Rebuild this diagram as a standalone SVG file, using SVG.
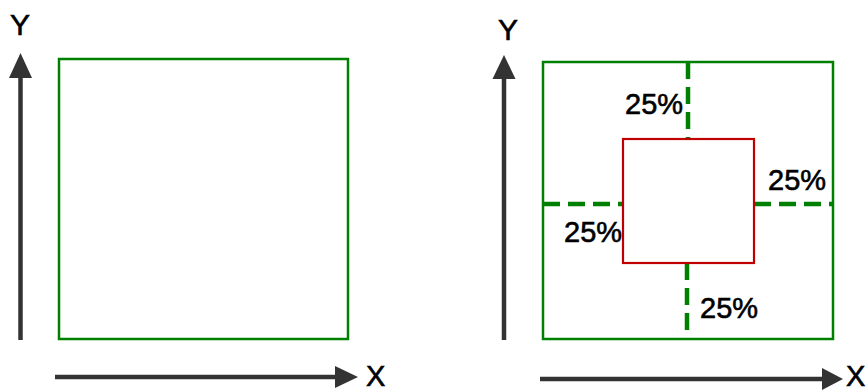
<svg xmlns="http://www.w3.org/2000/svg" width="866" height="392" viewBox="0 0 866 392">
<defs>
<style>
.axis{stroke:#333;stroke-width:4.5;fill:none}
.head{fill:#333}
.lbl{font-family:"Liberation Sans",Arial,sans-serif;fill:#000;stroke:#000;stroke-width:0.6}
.ax{font-size:30px}
.axx{font-size:29px}
.pct{font-size:29px}
.outer{fill:none;stroke:#008000;stroke-width:2.5}
.inner{fill:none;stroke:#c00000;stroke-width:2.2}
.dash{stroke:#008000;stroke-width:4.5;stroke-dasharray:17 8;fill:none}
</style>
</defs>
<rect width="866" height="392" fill="#fff"/>
<g id="connectors">
<line class="axis" x1="20.5" y1="340" x2="20.5" y2="75"/>
<polygon class="head" points="20.5,53 9,78 32,78"/>
<line class="axis" x1="55" y1="377" x2="338" y2="377"/>
<polygon class="head" points="358,377 335,366 335,388"/>
<line class="axis" x1="504" y1="340" x2="504" y2="76"/>
<polygon class="head" points="504,55 492.5,79 515.5,79"/>
<line class="axis" x1="540" y1="379" x2="825" y2="379"/>
<polygon class="head" points="843,379 822,368 822,390"/>
<line class="dash" x1="688" y1="62" x2="688" y2="139"/>
<line class="dash" x1="687" y1="263" x2="687" y2="339"/>
<line class="dash" x1="543" y1="204" x2="623" y2="204"/>
<line class="dash" x1="754" y1="204" x2="833" y2="204"/>
</g>
<g id="axis-labels">
<text class="lbl ax" x="20" y="35" text-anchor="middle">Y</text>
<text class="lbl ax" x="508" y="40" text-anchor="middle">Y</text>
<text class="lbl axx" x="366" y="386">X</text>
<text class="lbl axx" x="846" y="386">X</text>
</g>
<g id="box-left">
<rect class="outer" x="59" y="59" width="289" height="280"/>
</g>
<g id="box-right">
<rect class="outer" x="543" y="62" width="290" height="277"/>
</g>
<g id="labels">
<text class="lbl pct" x="625" y="114">25%</text>
<text class="lbl pct" x="564" y="242">25%</text>
<text class="lbl pct" x="768" y="190">25%</text>
<text class="lbl pct" x="700" y="318">25%</text>
</g>
<g id="box-inner">
<rect class="inner" x="623" y="139" width="131" height="124"/>
</g>
</svg>
